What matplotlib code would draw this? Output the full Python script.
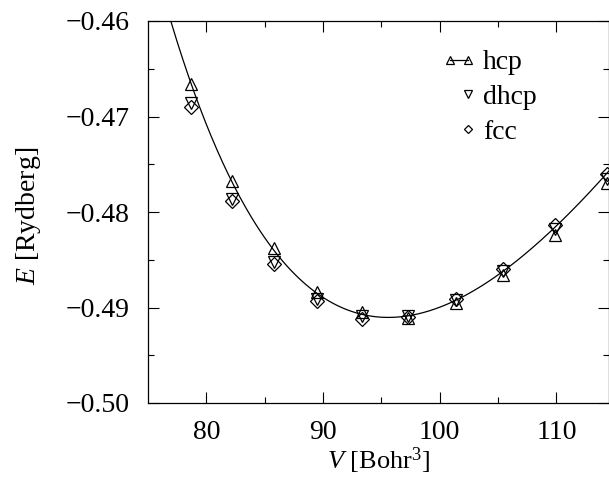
import numpy as np
import matplotlib
matplotlib.use("Agg")
import matplotlib.pyplot as plt
from matplotlib.lines import Line2D
from matplotlib.legend_handler import HandlerLine2D

plt.rcParams['font.family'] = ['Liberation Serif', 'DejaVu Serif']
plt.rcParams['mathtext.fontset'] = 'custom'
plt.rcParams['mathtext.rm'] = 'Liberation Serif'
plt.rcParams['mathtext.it'] = 'Liberation Serif:italic'

# Volumes (Bohr^3)
V = [78.7, 82.2, 85.8, 89.5, 93.35, 97.3, 101.35, 105.45, 109.9, 114.3]
E_hcp = [-0.4666, -0.4768, -0.4838, -0.4884, -0.4905, -0.4911, -0.4895, -0.4866, -0.4824, -0.4770]
E_dhcp = [-0.4686, -0.4786, -0.4852, -0.4891, -0.4909, -0.4909, -0.4892, -0.4862, -0.4818, -0.4765]
E_fcc = [-0.4690, -0.4788, -0.4854, -0.4893, -0.4912, -0.4910, -0.4891, -0.4860, -0.4814, -0.4760]

# Points
V_curve = [77.06, 78.7, 82.2, 85.8, 89.5, 93.35, 97.3, 101.35, 105.45, 109.9, 114.6]
E_curve = [-0.4600, -0.4670, -0.4772, -0.4840, -0.4883, -0.4904, -0.4909, -0.4893, -0.4864, -0.4818, -0.4753]

W, H = 609, 483
fig = plt.figure(figsize=(W/100, H/100), dpi=100)
ax = fig.add_axes([148/W, 80/H, (W-148)/W, 382/H])

# Smooth Birch-Murnaghan-type curve: cubic in V^(-2/3) fitted to the read curve points
xc = np.array(V_curve) ** (-2.0/3.0)
coef = np.polyfit(xc, np.array(E_curve), 3)
vv = np.linspace(76.5, 115.5, 400)
ax.plot(vv, np.polyval(coef, vv ** (-2.0/3.0)), color='black', lw=0.9)

ms = 9
ax.plot(V, E_hcp, linestyle='none', marker='^', ms=ms, mfc='none', mec='black', mew=0.9)
ax.plot(V, E_dhcp, linestyle='none', marker='v', ms=ms, mfc='none', mec='black', mew=0.9)
ax.plot(V, E_fcc, linestyle='none', marker='D', ms=ms*0.75, mfc='none', mec='black', mew=0.9)

ax.set_xlim(75, 114.5)
ax.set_ylim(-0.50, -0.46)
ax.set_xticks([80, 90, 100, 110])
ax.set_xticks([85, 95, 105], minor=True)
ax.set_yticks([-0.50, -0.49, -0.48, -0.47, -0.46])
ax.set_yticks([-0.495, -0.485, -0.475, -0.465], minor=True)
ax.set_yticklabels(['\u22120.50', '\u22120.49', '\u22120.48', '\u22120.47', '\u22120.46'])
ax.tick_params(which='both', direction='in', top=True, right=True, labelsize=20, width=0.8)
ax.tick_params(which='major', length=8)
ax.tick_params(which='minor', length=4)
ax.tick_params(axis='x', pad=12)
ax.tick_params(axis='y', pad=13)
for s in ax.spines.values():
    s.set_linewidth(0.9)

ax.set_xlabel(r'$\it{V}$ [Bohr$^3$]', fontsize=19)
ax.set_ylabel(r'$\it{E}$ [Rydberg]', fontsize=20)
ax.xaxis.label.set_va('center')
ax.yaxis.label.set_va('center')
ax.xaxis.set_label_coords(0.5, (403-461)/382)
ax.yaxis.set_label_coords((28-148)/461, (403-216)/382)


class RightMarkerHandler(HandlerLine2D):
    """Legend handler drawing only the right-hand marker of a two-point handle."""
    def create_artists(self, legend, orig_handle, xdescent, ydescent,
                       width, height, fontsize, trans):
        artists = super().create_artists(legend, orig_handle, xdescent, ydescent,
                                         width, height, fontsize, trans)
        for a in artists:
            n = len(a.get_xdata())
            a.set_markevery([n - 1])
        return artists


h_hcp = Line2D([], [], color='black', lw=0.9, marker='^', ms=ms, mfc='none', mec='black', mew=0.9)
h_dhcp = Line2D([], [], linestyle='none', marker='v', ms=ms, mfc='none', mec='black', mew=0.9)
h_fcc = Line2D([], [], linestyle='none', marker='D', ms=ms*0.75, mfc='none', mec='black', mew=0.9)
fs = 20
ax.legend([h_hcp, h_dhcp, h_fcc], ['hcp', 'dhcp', 'fcc'],
          handler_map={h_hcp: HandlerLine2D(numpoints=2),
                       h_dhcp: RightMarkerHandler(numpoints=2),
                       h_fcc: RightMarkerHandler(numpoints=2)},
          loc='upper left', bbox_to_anchor=(441.7/W, (H-50)/H), bbox_transform=fig.transFigure,
          frameon=False, fontsize=fs, markerscale=0.65,
          handlelength=1.245, handletextpad=0.24, labelspacing=0.33, borderaxespad=0, borderpad=0)

fig.savefig('out.png', dpi=100)
